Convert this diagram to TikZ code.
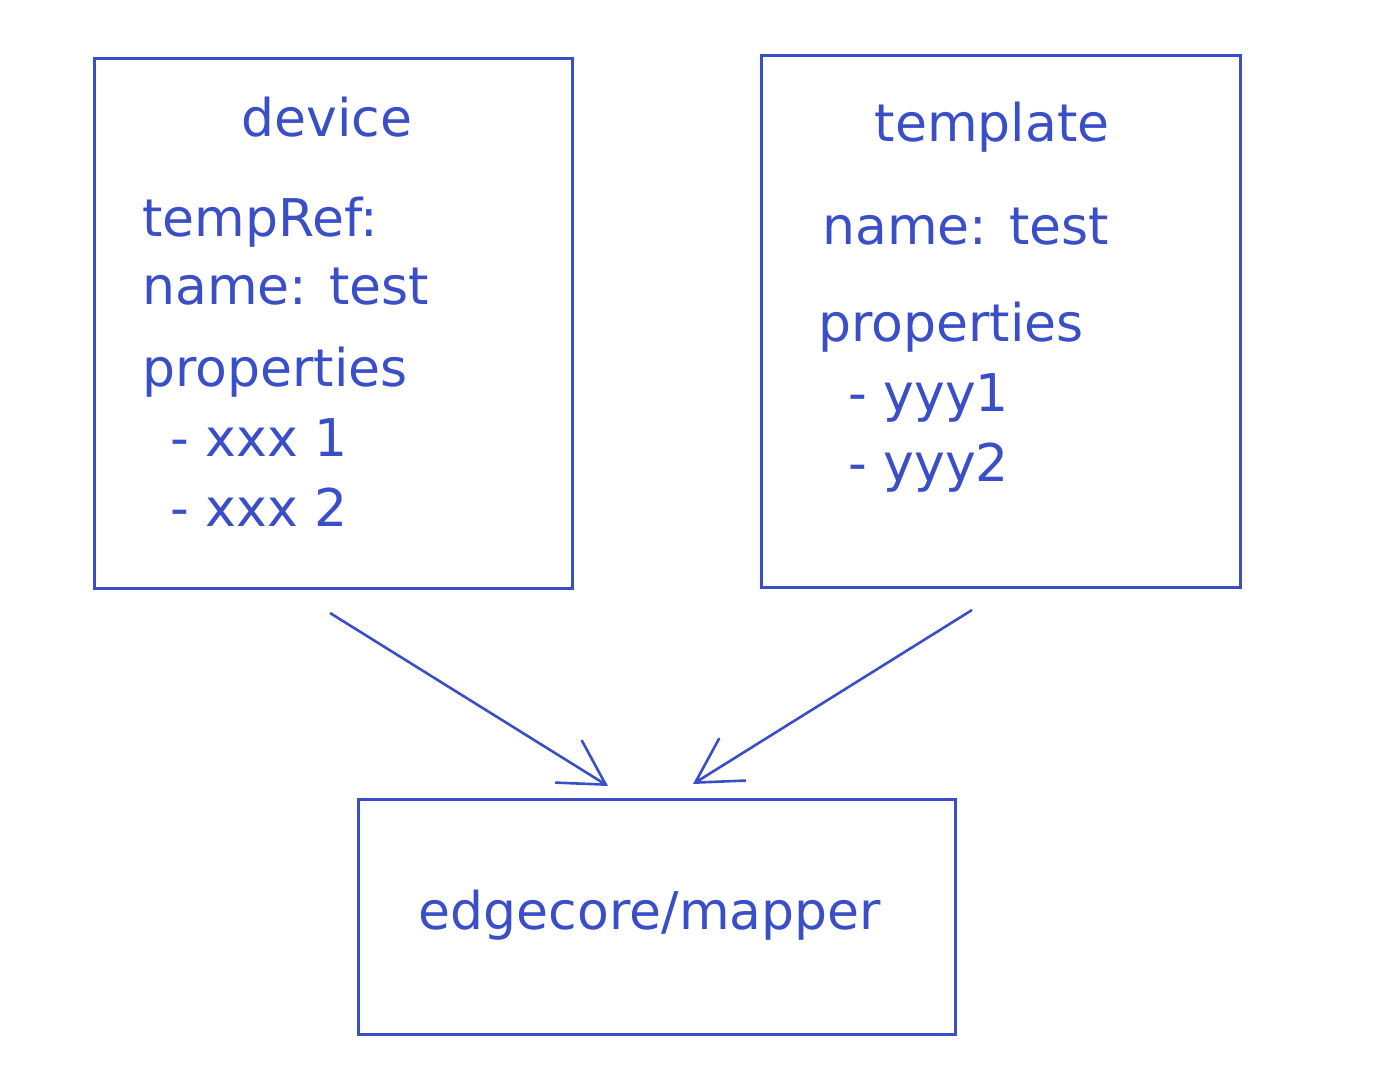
\documentclass[tikz,border=0pt]{standalone}
\usepackage{fontspec}
\setmainfont{DejaVu Sans}
\usetikzlibrary{arrows.meta}
\definecolor{ink}{RGB}{58,78,200}
\tikzset{
  box/.style={draw=ink, line width=3pt},
  txt/.style={text=ink, anchor=base west, inner sep=0pt, font=\fontsize{52}{62}\selectfont},
  ctxt/.style={text=ink, anchor=base, inner sep=0pt, font=\fontsize{52}{62}\selectfont},
  conn/.style={draw=ink, line width=2.6pt, -{Straight Barb[length=44pt,width=50pt,line width=2.6pt]}}
}
\begin{document}
\begin{tikzpicture}[x=1pt,y=-1pt]
\useasboundingbox (0,0) rectangle (1388,1084);
% boxes
\node[box, minimum width=478pt, minimum height=530pt, inner sep=0pt, anchor=north west] (dev) at (93,57) {};
\node[box, minimum width=479pt, minimum height=532pt, inner sep=0pt, anchor=north west] (tpl) at (760,54) {};
\node[box, minimum width=597pt, minimum height=235pt, inner sep=0pt, anchor=north west] (map) at (357,798) {};
% device texts
\node[ctxt] (devt) at (327,136) {device};
\node[txt] (dref) at (142,236) {tempRef:};
\node[txt] (dname) at (142,304) {name: test};
\node[txt] (dprop) at (142,386) {properties};
\node[txt] (dx1) at (170,456) {- xxx 1};
\node[txt] (dx2) at (170,526) {- xxx 2};
% template texts
\node[ctxt] (tplt) at (992,141) {template};
\node[txt] (tname) at (822,244) {name: test};
\node[txt] (tprop) at (818,341) {properties};
\node[txt] (ty1) at (848,411) {- yyy1};
\node[txt] (ty2) at (848,481) {- yyy2};
% mapper text
\node[ctxt] (mapt) at (650,929) {edgecore/mapper};
% connectors
\coordinate (s1) at (330,613);
\coordinate (e1) at (608,786);
\coordinate (s2) at (972,610);
\coordinate (e2) at (693,784);
\draw[conn] (s1) -- (e1);
\draw[conn] (s2) -- (e2);
\end{tikzpicture}
\end{document}
